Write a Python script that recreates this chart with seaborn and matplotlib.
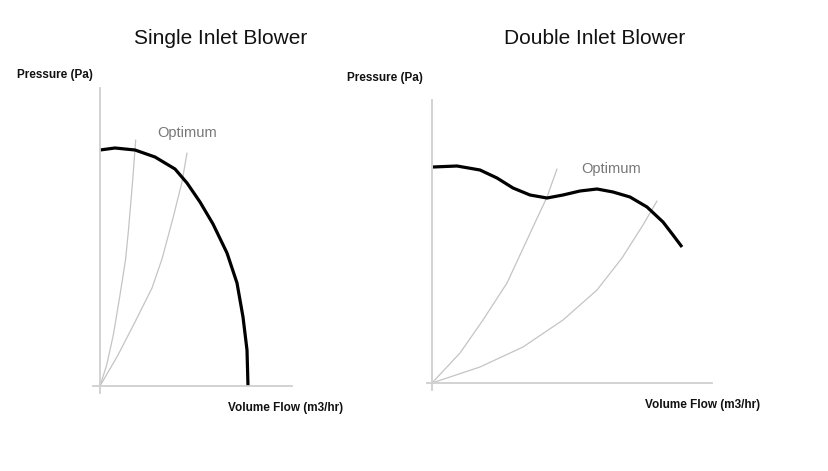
import matplotlib
matplotlib.use("Agg")
import matplotlib.pyplot as plt
import seaborn as sns

# Single inlet blower - fan curve and two system curves
single_fan_x = [0, 15, 35, 55, 75, 87, 100, 113, 127, 137, 143, 147, 148]
single_fan_y = [236, 238, 236, 229, 217, 203, 184, 162, 133, 103, 69, 36, 0]
single_sys1_x = [0, 6.7, 13.3, 20, 25.5, 28.3, 32.3, 35.7]
single_sys1_y = [0, 21, 51, 91, 126, 154, 201, 246]
single_sys2_x = [0, 18, 35, 52, 62, 73, 82, 87]
single_sys2_y = [0, 31, 64, 98, 127, 168, 204, 233]

# Double inlet blower
double_fan_x = [1, 25, 48, 65, 81, 98, 115, 131, 148, 165, 181, 198, 215, 231, 241, 250]
double_fan_y = [216, 217, 213, 205, 195, 188, 185, 188, 192, 194, 191, 186, 176, 161, 148, 136]
double_sys1_x = [0, 28, 51, 75, 88, 101, 115, 125]
double_sys1_y = [0, 30, 63, 100, 128, 156, 186, 214]
double_sys2_x = [0, 48, 91, 131, 165, 190, 211, 225]
double_sys2_y = [0, 16, 36, 63, 93, 125, 158, 182]

titles = ["Single Inlet Blower", "Double Inlet Blower"]
y_label = "Pressure (Pa)"
x_label = "Volume Flow (m3/hr)"
note = "Optimum"

sns.set_style("white")
plt.rcParams['font.family'] = ['Liberation Sans', 'DejaVu Sans']

W, H = 829, 471
fig = plt.figure(figsize=(W / 100, H / 100), dpi=100)

def px_axes(x0, x1, y_top, y_bot):
    return fig.add_axes([x0 / W, 1 - y_bot / H, (x1 - x0) / W, (y_bot - y_top) / H])

axis_grey = "#cfcfcf"
curve_grey = "#c4c4c4"

def setup(ax, xlim, ylim):
    ax.set_xlim(*xlim)
    ax.set_ylim(*ylim)
    for s in ["top", "right"]:
        ax.spines[s].set_visible(False)
    for s in ["left", "bottom"]:
        ax.spines[s].set_position(("data", 0))
        ax.spines[s].set_color(axis_grey)
        ax.spines[s].set_linewidth(1.3)
    ax.spines["left"].set_bounds(ylim[0], ylim[1])
    ax.spines["bottom"].set_bounds(xlim[0], xlim[1])
    ax.set_xticks([])
    ax.set_yticks([])
    ax.set_xlabel("")
    ax.set_ylabel("")
    ax.patch.set_alpha(0)

def draw(ax, fan_x, fan_y, sys_curves):
    for sx, sy in sys_curves:
        sns.lineplot(x=sx, y=sy, ax=ax, sort=False, estimator=None,
                     color=curve_grey, linewidth=0.9)
    sns.lineplot(x=fan_x, y=fan_y, ax=ax, sort=False, estimator=None,
                 color="black", linewidth=2.3, solid_capstyle="butt",
                 solid_joinstyle="round")

# left panel: origin at pixel (100, 386)
ax1 = px_axes(93, 292, 88, 393)
draw(ax1, single_fan_x, single_fan_y,
     [(single_sys1_x, single_sys1_y), (single_sys2_x, single_sys2_y)])
setup(ax1, (-7, 192), (-7, 298))

# right panel: origin at pixel (432, 383)
ax2 = px_axes(427, 712, 100, 390)
draw(ax2, double_fan_x, double_fan_y,
     [(double_sys1_x, double_sys1_y), (double_sys2_x, double_sys2_y)])
setup(ax2, (-5, 280), (-7, 283))

def ftext(x, y, s, **kw):
    fig.text(x / W, 1 - y / H, s, va="center", **kw)

ftext(221, 38, titles[0], ha="center", fontsize=15, color="#111111")
ftext(595, 38, titles[1], ha="center", fontsize=15, color="#111111")
ftext(17, 75, y_label, ha="left", fontsize=8.5, fontweight="bold", color="#111111")
ftext(347, 78, y_label, ha="left", fontsize=8.5, fontweight="bold", color="#111111")
ftext(228, 408, x_label, ha="left", fontsize=8.5, fontweight="bold", color="#111111")
ftext(645, 405, x_label, ha="left", fontsize=8.5, fontweight="bold", color="#111111")
ftext(187, 133, note, ha="center", fontsize=10.5, color="#777777")
ftext(611, 169, note, ha="center", fontsize=10.5, color="#777777")

fig.savefig("out.png", dpi=100)
